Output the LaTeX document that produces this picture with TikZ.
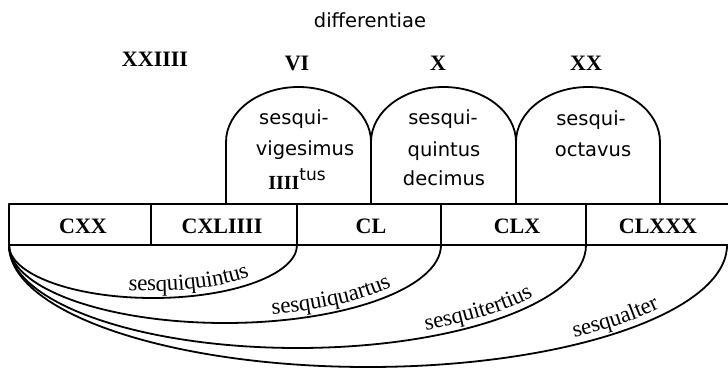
\documentclass[tikz,border=0pt]{standalone}
\usepackage{fontspec}
\setmainfont{Liberation Serif}
\newfontfamily\sansf{DejaVu Sans}
\usetikzlibrary{decorations.text}
\newcommand\arcfont{\fontsize{23}{25}\selectfont}
\begin{document}
\begin{tikzpicture}[x=1pt,y=1pt,
  inkline/.style={line width=1.8pt, line join=round},
  numlab/.style={font=\bfseries\fontsize{22}{24}\selectfont, anchor=base, inner sep=0pt},
  sanslab/.style={font=\sansf\fontsize{19.5}{22}\selectfont, anchor=base, inner sep=0pt},
  arclab/.style={decorate, decoration={text along path, text align=left, raise=7pt, text={|\arcfont|#1}}}
]
\useasboundingbox (0,0) rectangle (728,370);

% row of boxes
\draw[inkline] (728,166) -- (9,166) -- (9,125) -- (728,125);
\foreach \x in {151,297,441,586} \draw[inkline] (\x,166) -- (\x,125);

% arches
\draw[inkline] (226,166) -- (226,228) arc[start angle=180,end angle=0,x radius=72.5pt,y radius=55pt] -- (371,166);
\draw[inkline] (371,228) arc[start angle=180,end angle=0,x radius=72.5pt,y radius=55pt] -- (516,166);
\draw[inkline] (516,228) arc[start angle=180,end angle=0,x radius=72pt,y radius=55pt] -- (660,166);

% arcs below
\draw[inkline] (9,125) arc[start angle=180,end angle=360,x radius=144pt,y radius=53pt];
\draw[inkline] (9,125) arc[start angle=180,end angle=360,x radius=216pt,y radius=78pt];
\draw[inkline] (9,125) arc[start angle=180,end angle=360,x radius=288.5pt,y radius=103pt];
\draw[inkline] (9,125) arc[start angle=180,end angle=360,x radius=359pt,y radius=122pt];

% labels along the arcs
\path[arclab=sesquiquintus] (153,125) ++(260:144pt and 53pt) arc[start angle=260,end angle=355,x radius=144pt,y radius=53pt];
\path[arclab=sesquiquartus] (225,125) ++(282.8:216pt and 78pt) arc[start angle=282.8,end angle=355,x radius=216pt,y radius=78pt];
\path[arclab=sesquitertius] (297.5,125) ++(296.7:288.5pt and 103pt) arc[start angle=296.7,end angle=355,x radius=288.5pt,y radius=103pt];
\path[arclab=sesqualter] (368,125) ++(305.4:359pt and 122pt) arc[start angle=305.4,end angle=358,x radius=359pt,y radius=122pt];

% top labels
\node[sanslab] (dif) at (370,342) {differentiae};
\node[numlab] (d24) at (155,303) {XXIIII};
\node[numlab] (d6) at (297,299) {VI};
\node[numlab] (d10) at (438,299) {X};
\node[numlab] (d20) at (586,299) {XX};

% box labels
\node[numlab] (c120) at (83,137) {CXX};
\node[numlab] (c144) at (222,137) {CXLIIII};
\node[numlab] (c150) at (371,137) {CL};
\node[numlab] (c160) at (517,137) {CLX};
\node[numlab] (c180) at (658,137) {CLXXX};

% texts in arches
\node[sanslab] (a1) at (294,245) {sesqui-};
\node[sanslab] (a2) at (305,214) {vigesimus};
\node[sanslab] (a3) at (297,180) {{\rmfamily\bfseries\fontsize{20}{22}\selectfont IIII}\raisebox{9pt}{\fontsize{17}{20}\selectfont tus}};
\node[sanslab] (b1) at (443,245) {sesqui-};
\node[sanslab] (b2) at (444,213) {quintus};
\node[sanslab] (b3) at (444,184) {decimus};
\node[sanslab] (e1) at (591,244) {sesqui-};
\node[sanslab] (e2) at (593,213) {octavus};
\end{tikzpicture}
\end{document}
